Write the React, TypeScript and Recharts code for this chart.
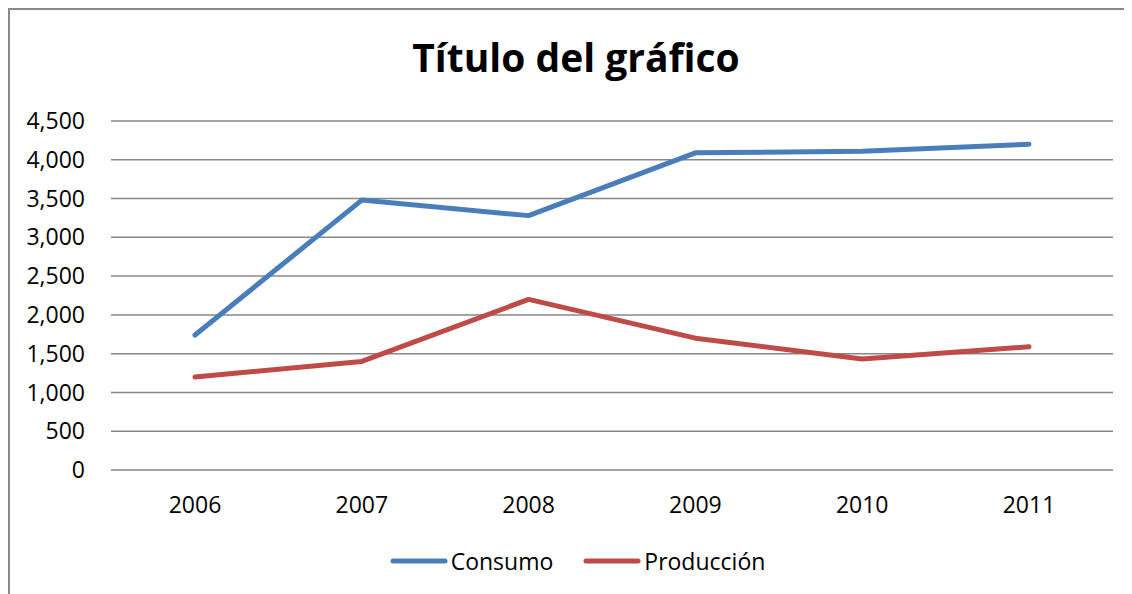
import React from "react";
import { LineChart, Line, XAxis, YAxis, CartesianGrid, Legend } from "recharts";

const years = ["2006", "2007", "2008", "2009", "2010", "2011"];
const consumo = [1740, 3480, 3280, 4090, 4110, 4200];
const produccion = [1200, 1400, 2200, 1700, 1430, 1590];
const yTicks = [0, 500, 1000, 1500, 2000, 2500, 3000, 3500, 4000, 4500];

const series = [
  { key: "Consumo", color: "#4A7EBB" },
  { key: "Producción", color: "#BE4B48" },
];

const data = years.map((y, i) => ({ year: y, Consumo: consumo[i], "Producción": produccion[i] }));

const FONT = "'Open Sans', 'Liberation Sans', sans-serif";

const fmt = (v: number) => v.toLocaleString("en-US");

const LegendContent = () => (
  <div
    style={{
      height: 40,
      display: "flex",
      alignItems: "center",
      justifyContent: "center",
      paddingLeft: 32,
      fontFamily: FONT,
      fontSize: 23,
      color: "#000",
    }}
  >
    {series.map((s, i) => (
      <div key={s.key} style={{ display: "flex", alignItems: "center", marginLeft: i === 0 ? 0 : 30 }}>
        <svg width={58} height={10} style={{ marginRight: 3 }}>
          <line x1={3} y1={5} x2={55} y2={5} stroke={s.color} strokeWidth={5} strokeLinecap="round" />
        </svg>
        <span>{s.key}</span>
      </div>
    ))}
  </div>
);

export default function App() {
  return (
    <div
      style={{
        position: "relative",
        width: 1130,
        height: 590,
        borderLeft: "2px solid #8a8a8a",
        borderTop: "2px solid #8a8a8a",
        boxSizing: "border-box",
        background: "#fff",
        fontFamily: FONT,
      }}
    >
      <div
        style={{
          position: "absolute",
          left: 0,
          top: 20,
          width: 1132,
          textAlign: "center",
          fontFamily: FONT,
          fontWeight: 700,
          fontSize: 39,
          lineHeight: "54px",
          color: "#000",
        }}
      >
        Título del gráfico
      </div>
      <LineChart
        width={1120}
        height={584}
        data={data}
        margin={{ top: 111, right: 17, left: 0, bottom: 13 }}
      >
        <CartesianGrid vertical={false} stroke="#878787" strokeWidth={1.5} />
        <XAxis
          dataKey="year"
          axisLine={false}
          tickLine={false}
          tickSize={0}
          tickMargin={27}
          height={71}
          padding={{ left: 84, right: 84 }}
          tick={{ fill: "#000", fontSize: 23, fontFamily: FONT }}
          interval={0}
        />
        <YAxis
          width={101}
          domain={[0, 4500]}
          ticks={yTicks}
          axisLine={false}
          tickLine={false}
          tickSize={0}
          tickMargin={26}
          tickFormatter={fmt}
          tick={{ fill: "#000", fontSize: 23, fontFamily: FONT }}
          interval={0}
        />
        <Legend verticalAlign="bottom" height={40} content={<LegendContent />} />
        {series.map((s) => (
          <Line
            key={s.key}
            type="linear"
            dataKey={s.key}
            stroke={s.color}
            strokeWidth={5}
            strokeLinecap="round"
            strokeLinejoin="round"
            dot={false}
            activeDot={false}
            isAnimationActive={false}
          />
        ))}
      </LineChart>
    </div>
  );
}
